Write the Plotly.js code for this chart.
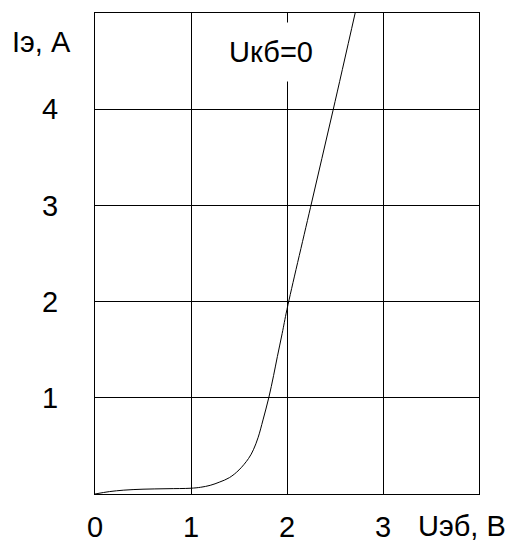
<!DOCTYPE html>
<html><head><meta charset="utf-8">
<script src="https://cdn.plot.ly/plotly-3.0.1.min.js"></script>
<style>html,body{margin:0;padding:0;background:#fff}</style>
</head><body><div id="chart" style="width:515px;height:543px"></div>
<script>
const uEB = [0, 0.15, 0.3, 0.5, 0.75, 1.0, 1.1, 1.2, 1.3, 1.4, 1.5, 1.6, 1.65, 1.7, 1.75, 1.81, 1.86, 1.9, 1.95, 2.0, 2.245, 2.48, 2.71];
const iE  = [0, 0.025, 0.04, 0.05, 0.055, 0.06, 0.07, 0.09, 0.125, 0.17, 0.25, 0.37, 0.46, 0.59, 0.77, 1.0, 1.23, 1.43, 1.67, 1.92, 2.98, 3.99, 5.0];
const xTicks = [0, 1, 2, 3];
const yTicks = [1, 2, 3, 4];
const xTitle = 'Uэб, В';
const yTitle = 'Iэ, А';
const curveLabel = 'Uкб=0';

const F = {family: 'Arial, Liberation Sans, sans-serif', size: 29, color: '#000'};
function px(x, y) { return {x: (x - 95) / 384, y: (494 - y) / 481}; }
const pT = px(41, 42), pX = px(462, 526);
Plotly.newPlot('chart', [{
  x: uEB, y: iE, mode: 'lines', type: 'scatter',
  line: {color: '#000', width: 1, shape: 'spline', smoothing: 1},
  hoverinfo: 'skip'
}], {
  width: 515, height: 543,
  margin: {l: 95, r: 36, t: 13, b: 49},
  paper_bgcolor: '#fff', plot_bgcolor: '#fff',
  showlegend: false,
  xaxis: {range: [0, 4], tickvals: xTicks, ticktext: xTicks.map(String),
    showgrid: true, gridcolor: '#000', gridwidth: 1, zeroline: false,
    showline: true, linecolor: '#000', linewidth: 1, mirror: true,
    ticks: '', tickfont: F, ticklabelstandoff: 7, fixedrange: true},
  yaxis: {range: [0, 5], tickvals: yTicks, ticktext: yTicks.map(String),
    showgrid: true, gridcolor: '#000', gridwidth: 1, zeroline: false,
    showline: true, linecolor: '#000', linewidth: 1, mirror: true,
    ticks: '', tickfont: F, ticklabelstandoff: 30, fixedrange: true},
  annotations: [
    {text: curveLabel, x: 1.83, y: 4.59, xref: 'x', yref: 'y', showarrow: false,
     font: F, bgcolor: '#fff', borderpad: 13},
    {text: yTitle, x: pT.x, y: pT.y, xref: 'paper', yref: 'paper', showarrow: false, font: F,
     xanchor: 'center', yanchor: 'middle'},
    {text: xTitle, x: pX.x, y: pX.y, xref: 'paper', yref: 'paper', showarrow: false, font: F,
     xanchor: 'center', yanchor: 'middle'}
  ]
}, {staticPlot: true});
</script></body></html>
